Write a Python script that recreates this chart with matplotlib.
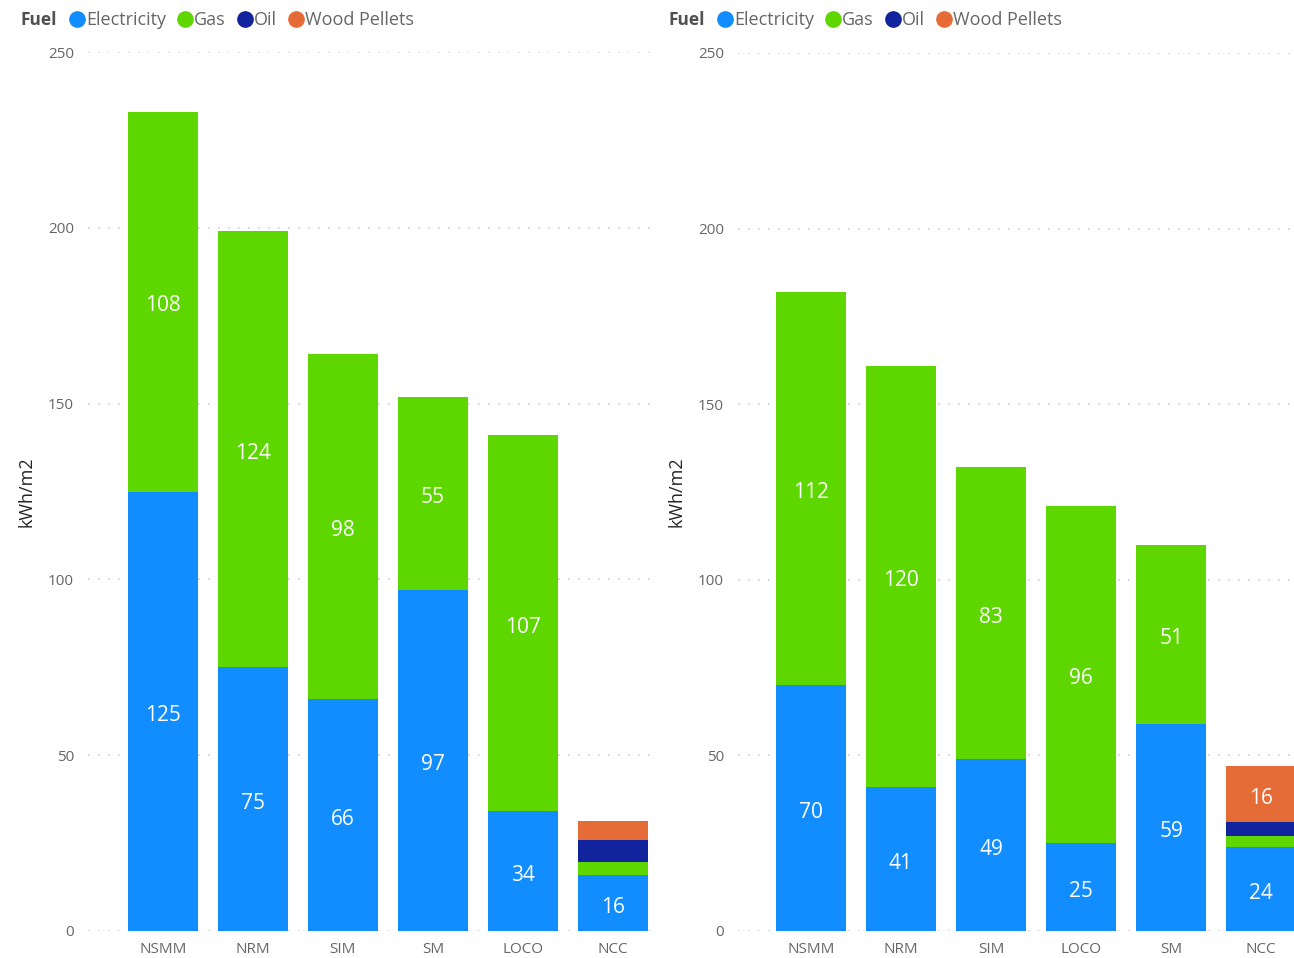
import matplotlib.pyplot as plt
from matplotlib.lines import Line2D

plt.rcParams['font.family'] = ['Open Sans', 'DejaVu Sans']

# energy use per fuel, kWh/m2
left_cats = ['NSMM', 'NRM', 'SIM', 'SM', 'LOCO', 'NCC']
left_elec = [125, 75, 66, 97, 34, 16]
left_gas = [108, 124, 98, 55, 107, 3.5]
left_oil = [0, 0, 0, 0, 0, 6.5]
left_wood = [0, 0, 0, 0, 0, 5.2]

right_cats = ['NSMM', 'NRM', 'SIM', 'LOCO', 'SM', 'NCC']
right_elec = [70, 41, 49, 25, 59, 24]
right_gas = [112, 120, 83, 96, 51, 3]
right_oil = [0, 0, 0, 0, 0, 4]
right_wood = [0, 0, 0, 0, 0, 16]

fuels = ['Electricity', 'Gas', 'Oil', 'Wood Pellets']
colors = ['#118DFF', '#5ED700', '#12239E', '#E66C37']

W, H = 1294, 958
fig = plt.figure(figsize=(W / 100, H / 100), dpi=100)


def px(x0, y0, x1, y1):
    # pixel box -> figure fraction rect
    return [x0 / W, 1 - y1 / H, (x1 - x0) / W, (y1 - y0) / H]


def stacked(ax, cats, series):
    xs = range(len(cats))
    bottom = [0] * len(cats)
    for vals, c in zip(series, colors):
        bars = ax.bar(xs, vals, 0.78, bottom=bottom, color=c, zorder=2)
        labels = ['%d' % round(v) if v >= 10 else '' for v in vals]
        ax.bar_label(bars, labels=labels, label_type='center', color='white',
                     fontsize=15, padding=-3)
        bottom = [b + v for b, v in zip(bottom, vals)]
    ax.set_ylim(0, 250)
    ax.set_yticks([0, 50, 100, 150, 200, 250])
    ax.set_xticks(list(xs))
    ax.set_xticklabels(cats)
    ax.tick_params(length=0, colors='#666666', labelsize=11, pad=8)
    ax.tick_params(axis='y', pad=10)
    for s in ax.spines.values():
        s.set_visible(False)
    ax.grid(axis='y', color='#cfcfcf', linestyle=(0, (1, 5)), linewidth=1.2, zorder=0)
    ax.set_ylabel('kWh/m2', fontsize=13, color='#252423', labelpad=9)


ax1 = fig.add_axes(px(88, 52, 658, 931))
ax1.set_xlim(-0.83, 5.5)
stacked(ax1, left_cats, [left_elec, left_gas, left_oil, left_wood])

ax2 = fig.add_axes(px(738, 53, 1308, 931))
ax2.set_xlim(-0.81, 5.52)
stacked(ax2, right_cats, [right_elec, right_gas, right_oil, right_wood])

handles = [Line2D([], [], marker='o', linestyle='none', markersize=11,
                  markerfacecolor=c, markeredgecolor=c) for c in colors]
for fx, ax in [(20, ax1), (668, ax2)]:
    fig.text(fx / W, 1 - 20 / H, 'Fuel', fontsize=12.5, fontweight='bold',
             color='#505050', va='center')
    fig.legend(handles, fuels, loc='center left',
               bbox_to_anchor=((fx + 48) / W, 1 - 20 / H), ncol=4,
               frameon=False, handletextpad=0.0, columnspacing=0.55,
               handlelength=1.0, fontsize=13, labelcolor='#666666',
               borderaxespad=0, borderpad=0)

fig.savefig('out.png', dpi=100)
